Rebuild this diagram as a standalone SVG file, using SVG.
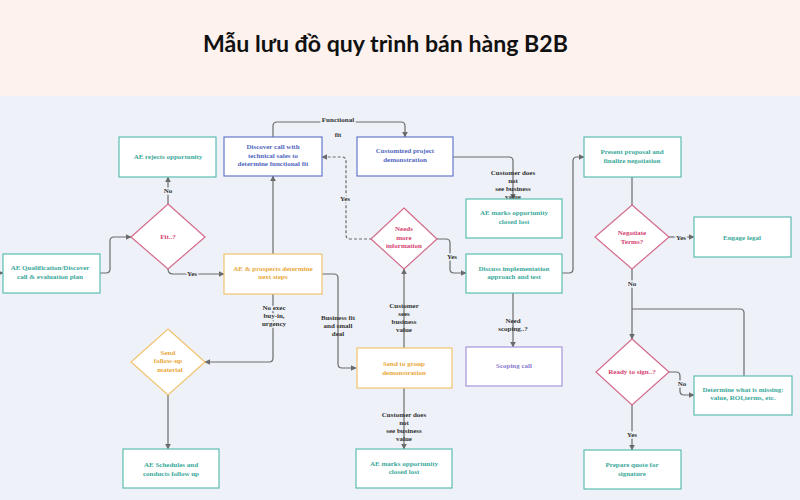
<svg xmlns="http://www.w3.org/2000/svg" width="800" height="500" viewBox="0 0 800 500">
<defs>
<marker id="ah" viewBox="0 0 10 10" refX="9" refY="5" markerWidth="6" markerHeight="6" orient="auto" markerUnits="userSpaceOnUse">
<path d="M0,0 L10,5 L0,10 z" fill="#6b6b6b"/>
</marker>
<style>
.bg1{fill:#fdf2ee}
.bg2{fill:#eef2f8}
.n{fill:#fff;stroke-width:1.2}
.teal{stroke:#5dbdb1}
.tealt{fill:#3aa99a}
.blue{stroke:#6577cc}
.bluet{fill:#5166c0}
.pink{stroke:#d46a8c}
.pinkt{fill:#d6426f}
.orange{stroke:#f1c46e}
.oranget{fill:#e9a73a}
.purple{stroke:#a496dc}
.purplet{fill:#8a7bd0}
text{font-family:"Liberation Serif","Times New Roman",serif;font-weight:bold;font-size:7px;text-anchor:middle}
.c path{fill:none;stroke:#6b6b6b;stroke-width:1.2}
.lbl{fill:#333}
.halo{fill:#333;stroke:#eef2f8;stroke-width:3;paint-order:stroke}
</style>
</defs>
<rect class="bg1" x="0" y="0" width="800" height="96"/>
<rect class="bg2" x="0" y="96" width="800" height="404"/>
<text x="203" y="52" textLength="365" lengthAdjust="spacingAndGlyphs" style="font-family:Lato,'Open Sans',sans-serif;font-size:22px;font-weight:bold;text-anchor:start;fill:#111">Mẫu lưu đồ quy trình bán hàng B2B</text>

<g class="c" id="connectors">
<path d="M-5 273 L3 273" marker-end="url(#ah)"/>
<path d="M100 273 L106 273 Q110 273 110 269 L110 241 Q110 237 114 237 L131 237" marker-end="url(#ah)"/>
<path d="M168 204 L168 177" marker-end="url(#ah)"/>
<path d="M168 269 Q168 274 173 274 L224 274" marker-end="url(#ah)"/>
<path d="M273 254 L273 176" marker-end="url(#ah)"/>
<path d="M273 137 L273 126 Q273 122 277 122 L401 122 Q405 122 405 126 L405 137" marker-end="url(#ah)"/>
<path d="M453 157 L509 157 Q513 157 513 161 L513 199" marker-end="url(#ah)"/>
<path d="M372 239 L350 239 Q346 239 346 235 L346 161 Q346 157 342 157 L322 157" stroke-dasharray="3,2" marker-end="url(#ah)"/>
<path d="M437 239 L446 239 Q450 239 450 243 L450 269 Q450 273 454 273 L466 273" marker-end="url(#ah)"/>
<path d="M404 348 L404 269" marker-end="url(#ah)"/>
<path d="M273 294 L273 358 Q273 362 269 362 L205 362" marker-end="url(#ah)"/>
<path d="M322 274 L334 274 Q338 274 338 278 L338 364 Q338 368 342 368 L356 368" marker-end="url(#ah)"/>
<path d="M404 388 L404 449" marker-end="url(#ah)"/>
<path d="M168 395 L168 449" marker-end="url(#ah)"/>
<path d="M562 273 L569 273 Q573 273 573 269 L573 161 Q573 157 577 157 L584 157" marker-end="url(#ah)"/>
<path d="M632 177 L632 205"/>
<path d="M669 237 L694 237" marker-end="url(#ah)"/>
<path d="M632 269 L632 339" marker-end="url(#ah)"/>
<path d="M744 376 L744 313 Q744 309 740 309 L632 309"/>
<path d="M669 372 L676 372 Q680 372 680 376 L680 391 Q680 395 684 395 L694 395" marker-end="url(#ah)"/>
<path d="M632 405 L632 450" marker-end="url(#ah)"/>
<path d="M513 293 L513 347" marker-end="url(#ah)"/>
<text class="halo" x="168" y="193">No</text>
<text class="halo" x="192" y="276">Yes</text>
<text class="halo" x="338" y="122">Functional</text>
<text class="lbl" x="338" y="137">fit</text>
<text class="lbl" x="513" y="175">Customer does</text>
<text class="lbl" x="513" y="183">not</text>
<text class="lbl" x="513" y="191">see business</text>
<text class="lbl" x="513" y="199">value</text>
<text class="halo" x="345" y="201">Yes</text>
<text class="halo" x="452" y="259">Yes</text>
<text class="lbl" x="404" y="308">Customer</text>
<text class="lbl" x="404" y="316">sees</text>
<text class="lbl" x="404" y="324">business</text>
<text class="lbl" x="404" y="332">value</text>
<text class="halo" x="274" y="310">No exec</text>
<text class="halo" x="274" y="318">buy-in,</text>
<text class="halo" x="274" y="326">urgency</text>
<text class="lbl" x="338" y="320">Business  fit</text>
<text class="lbl" x="338" y="328">and small</text>
<text class="lbl" x="338" y="336">deal</text>
<text class="lbl" x="404" y="417">Customer does</text>
<text class="lbl" x="404" y="425">not</text>
<text class="lbl" x="404" y="433">see business</text>
<text class="lbl" x="404" y="441">value</text>
<text class="halo" x="681" y="240">Yes</text>
<text class="halo" x="632" y="286">No</text>
<text class="halo" x="682" y="386">No</text>
<text class="halo" x="632" y="437">Yes</text>
<text class="lbl" x="513" y="323">Need</text>
<text class="lbl" x="513" y="331">scoping..?</text>
</g>

<g id="rejects"><rect class="n teal" x="119" y="137" width="97" height="40"/><text class="tealt" x="168" y="159">AE rejects  opportunity</text></g>
<g id="fit"><polygon class="n pink" points="168,204 205,237 168,269 131,237"/><text class="pinkt" x="168" y="239">Fit..?</text></g>
<g id="qualification"><rect class="n teal" x="3" y="254" width="97" height="39"/><text class="tealt" x="50" y="270">AE Qualification/Discover</text><text class="tealt" x="50" y="279">call &amp; evaluation  plan</text></g>
<g id="discover"><rect class="n blue" x="224" y="137" width="98" height="39"/><text class="bluet" x="273" y="149">Discover  call with</text><text class="bluet" x="273" y="158">technical  sales  to</text><text class="bluet" x="273" y="166">determine  functional  fit</text></g>
<g id="customized"><rect class="n blue" x="357" y="137" width="96" height="39"/><text class="bluet" x="405" y="153">Customized  project</text><text class="bluet" x="405" y="162">demonstration</text></g>
<g id="lost-top"><rect class="n teal" x="466" y="199" width="96" height="39"/><text class="tealt" x="514" y="215">AE marks  opportunity</text><text class="tealt" x="514" y="224">closed  lost</text></g>
<g id="needs-info"><polygon class="n pink" points="404,208 437,239 404,269 371,239"/><text class="pinkt" x="404" y="231">Needs</text><text class="pinkt" x="404" y="240">more</text><text class="pinkt" x="404" y="248">information</text></g>
<g id="next-steps"><rect class="n orange" x="224" y="254" width="98" height="40"/><text class="oranget" x="273" y="271">AE &amp; prospects  determine</text><text class="oranget" x="273" y="279">next steps</text></g>
<g id="group-demo"><rect class="n orange" x="357" y="348" width="95" height="40"/><text class="oranget" x="404" y="366">Send  to group</text><text class="oranget" x="404" y="375">demonstration</text></g>
<g id="discuss"><rect class="n teal" x="466" y="254" width="96" height="39"/><text class="tealt" x="514" y="271">Discuss  implementation</text><text class="tealt" x="514" y="279">approach  and test</text></g>
<g id="scoping"><rect class="n purple" x="466" y="347" width="96" height="39"/><text class="purplet" x="514" y="368">Scoping  call</text></g>
<g id="follow-up"><polygon class="n orange" points="168,329 205,362 168,395 131,362"/><text class="oranget" x="168" y="355">Send</text><text class="oranget" x="168" y="363">follow-up</text><text class="oranget" x="170" y="372">material</text></g>
<g id="schedules"><rect class="n teal" x="123" y="449" width="96" height="39"/><text class="tealt" x="171" y="467">AE Schedules  and</text><text class="tealt" x="171" y="476">conducts  follow up</text></g>
<g id="lost-bottom"><rect class="n teal" x="356" y="449" width="96" height="39"/><text class="tealt" x="404" y="466">AE marks  opportunity</text><text class="tealt" x="404" y="474">closed  lost</text></g>
<g id="proposal"><rect class="n teal" x="584" y="137" width="97" height="40"/><text class="tealt" x="632" y="154">Present  proposal  and</text><text class="tealt" x="632" y="163">finalize  negotiation</text></g>
<g id="negotiate"><polygon class="n pink" points="632,205 669,237 632,269 595,237"/><text class="pinkt" x="632" y="235">Negotiate</text><text class="pinkt" x="632" y="244">Terms?</text></g>
<g id="legal"><rect class="n teal" x="694" y="217" width="97" height="40"/><text class="tealt" x="742" y="240">Engage  legal</text></g>
<g id="ready"><polygon class="n pink" points="632,339 669,372 632,405 596,372"/><text class="pinkt" x="632" y="374">Ready  to sign..?</text></g>
<g id="determine"><rect class="n teal" x="694" y="376" width="98" height="39"/><text class="tealt" x="743" y="392">Determine  what is missing:</text><text class="tealt" x="743" y="400">value,  ROI,terms,  etc.</text></g>
<g id="quote"><rect class="n teal" x="584" y="450" width="97" height="39"/><text class="tealt" x="632" y="467">Prepare  quote  for</text><text class="tealt" x="632" y="476">signature</text></g>
</svg>
